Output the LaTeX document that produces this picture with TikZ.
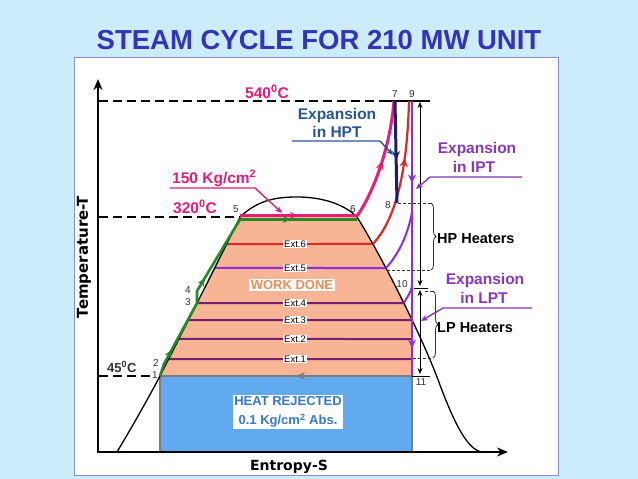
\documentclass[tikz,border=0pt]{standalone}
\usepackage{fontspec}
\setmainfont{Liberation Sans}
\newfontfamily\dvs{DejaVu Sans}
\usetikzlibrary{arrows.meta,decorations.markings,decorations.pathreplacing,intersections}

\definecolor{bgblue}{RGB}{204,236,252}
\definecolor{titleblue}{RGB}{52,52,184}
\definecolor{panelline}{RGB}{130,145,200}
\definecolor{salmon}{RGB}{247,181,149}
\definecolor{rejblue}{RGB}{98,170,240}
\definecolor{magentaC}{RGB}{228,30,120}
\definecolor{greenC}{RGB}{40,135,40}
\definecolor{redC}{RGB}{222,40,40}
\definecolor{violetC}{RGB}{140,45,225}
\definecolor{plumC}{RGB}{120,30,110}
\definecolor{navyC}{RGB}{25,30,110}
\definecolor{hptC}{RGB}{40,85,145}
\definecolor{iptC}{RGB}{135,55,185}
\definecolor{workC}{RGB}{235,140,90}
\definecolor{heatC}{RGB}{55,120,200}
\definecolor{grayC}{RGB}{125,125,125}
\definecolor{numC}{RGB}{50,50,50}

\newcommand\domepath{(117,452) .. controls (135,422) and (150,395) .. (160,376)
  .. controls (187,323) and (218,262) .. (240,217)
  .. controls (258,200) and (276,197) .. (297,197)
  .. controls (320,197) and (343,203) .. (357,217)
  .. controls (375,245) and (420,330) .. (440,385)
  .. controls (455,425) and (468,450) .. (482,452)}

\begin{document}
\begin{tikzpicture}[x=1pt,y=-1pt,
  lbl/.style={inner sep=0pt, anchor=base},
  numlbl/.style={inner sep=0pt, text=numC, font=\fontsize{10}{10}\selectfont},
  dashline/.style={line width=1.6pt, dash pattern=on 9pt off 5pt},
  extbox/.style={fill=white, inner sep=1pt, text=black, font=\fontsize{9.5}{9.5}\selectfont},
  pointer/.style={line width=1.4pt, -{Stealth[length=7pt,width=6pt]}},
  heaterdash/.style={line width=0.7pt, densely dashed, draw=numC},
  bigarrow/.style={postaction={decorate},decoration={markings,mark=at position #1 with {\arrow{Stealth[length=9pt,width=8pt]}}}},
  extline/.style={line width=2pt},
  bigtext/.style={lbl, font=\fontsize{15.5}{15.5}\selectfont\bfseries},
]
\fill[bgblue] (0,0) rectangle (638,479);
\useasboundingbox (0,0) rectangle (638,479);
\draw[panelline, line width=1pt, fill=white] (74,57) rectangle (558,475);

\node[lbl, font=\fontsize{27.5}{27.5}\selectfont\bfseries, text=titleblue] (title) at (319,49.5) {STEAM CYCLE FOR 210 MW UNIT};

% work done region
\begin{scope}
  \clip \domepath -- cycle;
  \fill[salmon] (100,217) rectangle (412,376);
\end{scope}
% heat rejected region
\fill[rejblue] (160,376) rectangle (412,452);
\draw[grayC, line width=2pt] (160,452) -- (160,376);
\draw[grayC, line width=2pt] (412,452) -- (412,376);
\draw[grayC, line width=2pt, bigarrow=0.46] (412,376) -- (160,376);

% intersections with the dome
\path[name path=domeP] \domepath;
\path[name path=h6] (100,244) -- (440,244);
\path[name path=h5] (100,268) -- (440,268);
\path[name path=h4] (100,303) -- (440,303);
\path[name path=h3] (100,320) -- (440,320);
\path[name path=h2] (100,339) -- (440,339);
\path[name path=h1] (100,359) -- (440,359);
\path[name intersections={of=domeP and h6, by={e6L,e6R}, sort by=domeP}];
\path[name intersections={of=domeP and h5, by={e5L,e5R}, sort by=domeP}];
\path[name intersections={of=domeP and h4, by={e4L,e4R}, sort by=domeP}];
\path[name intersections={of=domeP and h3, by={e3L,e3R}, sort by=domeP}];
\path[name intersections={of=domeP and h2, by={e2L,e2R}, sort by=domeP}];
\path[name intersections={of=domeP and h1, by={e1L,e1R}, sort by=domeP}];
\coordinate (x3) at (412,320);
\coordinate (x2) at (412,339);
\coordinate (x1) at (412,359);

% extraction lines
\draw[extline, redC] (e6L) -- (e6R);
\draw[extline, violetC] (e5L) -- (e5R);
\draw[extline, plumC] (e4L) -- (e4R);
\draw[extline, plumC] (e3L) -- (x3);
\draw[extline, plumC] (e2L) -- (x2);
\draw[extline, plumC] (e1L) -- (x1);
\node[extbox] (ext6) at (295,244) {Ext.6};
\node[extbox] (ext5) at (295,268) {Ext.5};
\node[extbox] (ext4) at (295,303) {Ext.4};
\node[extbox] (ext3) at (295,320) {Ext.3};
\node[extbox] (ext2) at (295,339) {Ext.2};
\node[extbox] (ext1) at (295,359) {Ext.1};

\node[fill=white, inner sep=1.5pt, text=workC, font=\fontsize{13}{13}\selectfont\bfseries] (work) at (292,285) {WORK DONE};
\node[fill=white, inner sep=1.5pt, text=heatC, align=center, font=\fontsize{13}{19}\selectfont\bfseries] (heat) at (288,412) {HEAT REJECTED\\0.1 Kg/cm\textsuperscript{2} Abs.};

% dome
\draw[line width=1.3pt] \domepath;

% axes
\draw[line width=2.4pt, -{Stealth[length=11pt,width=9pt]}] (98,453.2) -- (98,79);
\draw[line width=2.4pt, -{Stealth[length=11pt,width=9pt]}] (96.8,452) -- (508,452);
\node[font=\dvs\bfseries\fontsize{15}{15}\selectfont, rotate=90] (tlab) at (84,257) {Temperature-T};
\node[font=\dvs\bfseries\fontsize{14}{14}\selectfont] (slab) at (289,467) {Entropy-S};

% dashed temperature levels
\draw[dashline] (99,101) -- (385,101);
\draw[line width=1.6pt] (383,101) -- (430,101);
\draw[dashline] (99,217) -- (240,217);
\draw[dashline] (99,376) -- (151,376);

% green: feed heating
\draw[greenC, line width=2.6pt, line join=round, postaction={decorate},
  decoration={markings,
    mark=at position 29pt with {\arrow{Stealth[length=8pt,width=7pt]}},
    mark=at position 109pt with {\arrow{Stealth[length=8pt,width=7pt]}},
    mark=at position 228pt with {\arrow{Stealth[length=8pt,width=7pt]}}}]
  (160,376) -- (164,364) -- (197,303) -- (197,291) -- (224,246) -- (240,219.5) -- (357,219.5);

% magenta: evaporation and superheat
\draw[magentaC, line width=3pt, postaction={decorate},
  decoration={markings, mark=at position 58pt with {\arrow{Stealth[length=8pt,width=7pt]}}}]
  (240,215.5) -- (357,215.5);
\coordinate (p6) at (357,216);
\coordinate (p7) at (394,101);
\draw[magentaC, line width=3pt, bigarrow=0.5] (p6) .. controls (372,195) and (390,150) .. (p7);

% red: reheat
\coordinate (p9r) at (409,101);
\draw[redC, line width=2.2pt, bigarrow=0.62] (e6R) .. controls (395,220) and (407,175) .. (p9r);

% navy: HP expansion
\coordinate (p7n) at (395,101);
\coordinate (p8) at (397,203);
\draw[navyC, line width=3pt, bigarrow=0.58] (p7n) -- (p8);

% violet: IP/LP expansion
\coordinate (p9) at (412,101);
\coordinate (p11) at (412,376);
\draw[violetC, line width=2.6pt, postaction={decorate},
  decoration={markings,
    mark=at position 0.3 with {\arrow{Stealth[length=9pt,width=8pt]}},
    mark=at position 0.9 with {\arrow{Stealth[length=9pt,width=8pt]}}}]
  (p9) -- (p11);
\draw[violetC, line width=2pt] (e5R) .. controls (398,255) and (408,235) .. (412,212);
\draw[violetC, line width=2pt] (e4R) .. controls (408,296) and (411,292) .. (412,286);

% black double arrows
\draw[line width=0.8pt, {Stealth[length=6pt,width=5pt]}-{Stealth[length=6pt,width=5pt]}] (420,102) -- (420,286);
\draw[line width=0.8pt, {Stealth[length=6pt,width=5pt]}-{Stealth[length=6pt,width=5pt]}] (420,290) -- (420,374);
\draw[line width=0.8pt] (414,288) -- (428,288);
\draw[line width=1pt] (412,376) -- (430,376);

% heaters
\draw[heaterdash] (398,203) -- (431,203);
\draw[heaterdash] (387,270) -- (431,270);
\draw[heaterdash] (425,291) -- (433,291);
\draw[heaterdash] (413,358) -- (433,358);
\draw[numC, line width=0.8pt, decorate, decoration={brace, amplitude=5pt}] (431,203) -- (431,270);
\draw[numC, line width=0.8pt, decorate, decoration={brace, amplitude=5pt}] (433,291) -- (433,358);
\node[lbl, anchor=base west, font=\fontsize{14.5}{14.5}\selectfont\bfseries] (hph) at (437,243) {HP Heaters};
\node[lbl, anchor=base west, font=\fontsize{14.5}{14.5}\selectfont\bfseries] (lph) at (437,332) {LP Heaters};

% pointers and labels
\node[bigtext, text=hptC] (hpt1) at (337,119) {Expansion};
\node[bigtext, text=hptC] (hpt2) at (337,137) {in HPT};
\coordinate (hptA) at (292,141);
\coordinate (hptB) at (380,141);
\coordinate (hptC2) at (393,155);
\draw[hptC, pointer] (hptA) -- (hptB) -- (hptC2);

\node[bigtext, text=iptC] (ipt1) at (477,153) {Expansion};
\node[bigtext, text=iptC] (ipt2) at (474,172) {in IPT};
\coordinate (iptA) at (522,177);
\coordinate (iptB) at (430,177);
\coordinate (iptC2) at (416,189);
\draw[iptC, pointer] (iptA) -- (iptB) -- (iptC2);

\node[bigtext, text=iptC] (lpt1) at (485,284) {Expansion};
\node[bigtext, text=iptC] (lpt2) at (484,303) {in LPT};
\coordinate (lptA) at (532,308);
\coordinate (lptB) at (443,308);
\coordinate (lptC) at (421,321);
\draw[iptC, pointer] (lptA) -- (lptB) -- (lptC);

\node[bigtext, anchor=base west, text=magentaC] (press) at (172,183) {150 Kg/cm\textsuperscript{2}};
\coordinate (prA) at (170,188);
\coordinate (prB) at (255,188);
\coordinate (prC) at (282,213);
\draw[magentaC, pointer] (prA) -- (prB) -- (prC);
\node[bigtext, anchor=base west, text=magentaC] (t320) at (173,213) {320\textsuperscript{0}C};
\node[bigtext, anchor=base west, text=magentaC] (t540) at (245,98) {540\textsuperscript{0}C};
\node[lbl, anchor=base west, font=\fontsize{13}{13}\selectfont\bfseries, text=numC] (t45) at (107,372) {45\textsuperscript{0}C};

% state point numbers
\node[numlbl] (n1) at (155,375) {1};
\node[numlbl] (n2) at (156,363) {2};
\node[numlbl] (n3) at (188,302) {3};
\node[numlbl] (n4) at (188,290) {4};
\node[numlbl] (n5) at (236,209) {5};
\node[numlbl] (n6) at (353,209) {6};
\node[numlbl] (n7) at (395,94) {7};
\node[numlbl] (n8) at (388,205) {8};
\node[numlbl] (n9) at (412,94) {9};
\node[numlbl] (n10) at (402,284) {10};
\node[numlbl] (n11) at (421,382) {11};
\end{tikzpicture}
\end{document}
